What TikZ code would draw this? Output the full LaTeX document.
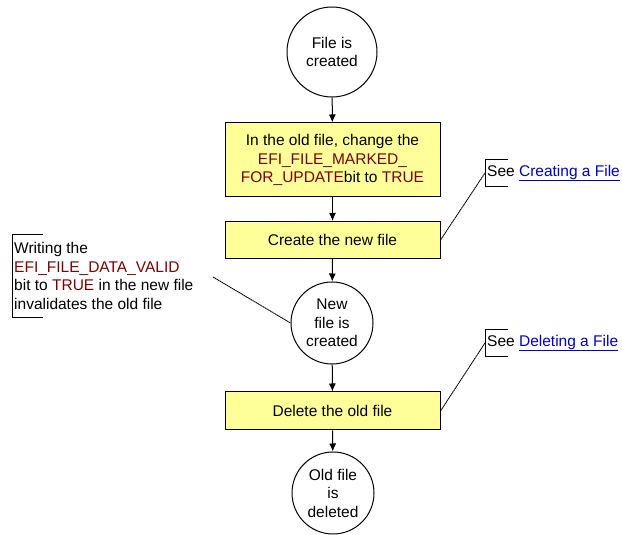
\documentclass[tikz,border=0pt]{standalone}
\usepackage{fontspec}
\setmainfont{Liberation Sans}
\usetikzlibrary{arrows.meta}

\definecolor{efired}{RGB}{128,0,0}
\definecolor{linkblue}{RGB}{0,0,204}
\definecolor{boxyellow}{RGB}{255,255,153}
\newcommand{\efi}[1]{\textcolor{efired}{#1}}
\newcommand{\link}[1]{\textcolor{linkblue}{\underline{#1}}}

\begin{document}
\begin{tikzpicture}[x=1pt,y=1pt,
    font=\fontsize{15.5}{18.5}\selectfont,
    state/.style={shape=circle,draw=black,line width=1pt,fill=white,minimum size=82pt,inner sep=0pt,align=center},
    action/.style={shape=rectangle,draw=black,line width=1pt,fill=boxyellow,minimum width=215pt,align=center},
    note/.style={anchor=west,inner xsep=2pt,inner ysep=0pt,align=left},
    flow/.style={line width=1pt,-{Latex[length=8pt,width=7pt]}},
    callout/.style={line width=0.9pt,dash pattern=on 1.5pt off 0.5pt}]
        \useasboundingbox (0,0) rectangle (622,535);

        \node[state,minimum size=90pt] (created) at (332, 483) {File is\\created};
        \node[action,minimum height=74pt] (mark) at (332.5, 375) {In the old file, change the\\\efi{EFI\_FILE\_MARKED\_}\\\efi{FOR\_UPDATE}bit to \efi{TRUE}};
        \node[action,minimum height=37pt] (create) at (332.5, 295) {Create the new file};
        \node[state] (newfile) at (332, 212) {New\\file is\\created};
        \node[action,minimum height=38pt] (delete) at (332.5, 124) {Delete the old file};
        \node[state] (oldfile) at (333, 42) {Old file\\is\\deleted};

        \node[note,minimum height=26pt] (seecreate) at (485, 362) {See \link{Creating a File}};
        \node[note,minimum height=26pt] (seedelete) at (485, 192) {See \link{Deleting a File}};
        \node[note,minimum height=82pt] (datavalid) at (12, 259) {Writing the\\\efi{EFI\_FILE\_DATA\_VALID}\\bit to \efi{TRUE} in the new file\\invalidates the old file};
        \coordinate (datavalidend) at (213, 258);

	% brackets of the notes
	\draw[thick] ([xshift=23pt]seecreate.north west) -- (seecreate.north west) -- (seecreate.south west) -- ([xshift=23pt]seecreate.south west);
	\draw[thick] ([xshift=23pt]seedelete.north west) -- (seedelete.north west) -- (seedelete.south west) -- ([xshift=23pt]seedelete.south west);
	\draw[thick] ([xshift=31pt]datavalid.north west) -- (datavalid.north west) -- (datavalid.south west) -- ([xshift=31pt]datavalid.south west);

	\path[flow] (created) edge (mark);
	\path[flow] (mark) edge (create);
	\path[flow] (create) edge (newfile);
	\path[flow] (newfile) edge (delete);
	\path[flow] (delete) edge (oldfile);

	\path[callout] (create.east) edge (seecreate.west);
	\path[callout] (delete.east) edge (seedelete.west);
	\path[callout] (datavalidend) edge (newfile.west);
	\end{tikzpicture}
\end{document}
